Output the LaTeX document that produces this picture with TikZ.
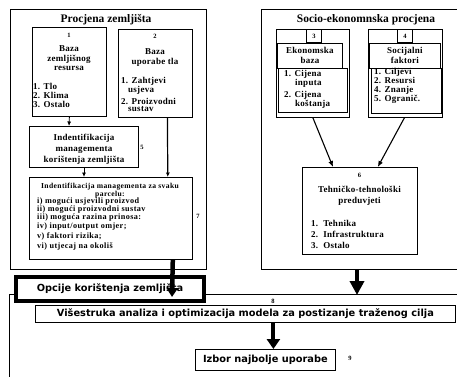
\documentclass[tikz,border=0pt]{standalone}
\usepackage{fontspec}
\setmainfont{Liberation Serif}
\newfontfamily\spc[LetterSpace=3]{Liberation Serif}
\newfontfamily\spcw[LetterSpace=5]{Liberation Serif}
\newfontfamily\vsans{DejaVu Sans}
\usetikzlibrary{arrows.meta,calc}
\begin{document}
\begin{tikzpicture}[x=1pt,y=-1pt,
  box/.style={draw,line width=0.8pt,fill=white,anchor=north west,inner sep=0pt},
  frame/.style={draw,line width=0.9pt,anchor=north west,inner sep=0pt},
  ttl/.style={inner sep=0pt,font=\bfseries\fontsize{11.5}{12}\selectfont},
  ctxt/.style={inner sep=0pt,font=\spc\bfseries\fontsize{9}{#1}\selectfont,align=center},
  ctxt/.default=9.5,
  ltxt/.style={inner sep=0pt,font=\spc\bfseries\fontsize{9}{#1}\selectfont,align=left,anchor=west},
  ltxt/.default=9,
  stxt/.style={inner sep=0pt,font=\spcw\bfseries\fontsize{8.2}{7}\selectfont,anchor=west},
  num/.style={inner sep=0pt,font=\bfseries\fontsize{6.5}{7}\selectfont},
  sans/.style={inner sep=0pt,font=\vsans\bfseries\fontsize{9.8}{10}\selectfont},
  arr/.style={line width=0.8pt,-{Latex[length=4.5pt,width=4pt]}},
  thick/.style={line width=4.5pt,-{Triangle[length=11pt,width=13pt]}}
]
\useasboundingbox (0,0) rectangle (457,376);
% bottom frame
\node[frame,minimum width=460pt,minimum height=100pt] (f8) at (9,294) {};
% big frames
\node[frame,minimum width=196pt,minimum height=260pt] (fL) at (10,9) {};
\node[frame,minimum width=210pt,minimum height=260pt] (fR) at (261,9) {};
\node[ttl] (tL) at (106,20) {Procjena zemljišta};
\node[ttl] (tR) at (366,20) {Socio-ekonomnska procjena};

% box 1
\node[box,minimum width=74pt,minimum height=89pt] (b1) at (32,27) {};
\node[num] (n1) at (69,35) {1};
\node[ctxt] (h1) at (69,58.5) {Baza\\zemljišnog\\resursa};
\node[ltxt] (l1) at (33,95) {1. Tlo\\2. Klima\\3. Ostalo};
% box 2
\node[box,minimum width=74pt,minimum height=88pt] (b2) at (118,29) {};
\node[num] (n2) at (155,36) {2};
\node[ctxt=10] (h2) at (155,58) {Baza\\uporabe tla};
\node[ltxt=7] (l2a) at (121,85.5) {1. Zahtjevi\\\hspace*{7pt}usjeva};
\node[ltxt=7] (l2b) at (121,104.5) {2. Proizvodni\\\hspace*{7pt}sustav};
% box 5
\node[box,minimum width=109pt,minimum height=41pt] (b5) at (29,126) {};
\node[ctxt=11] (h5) at (84,149) {Indentifikacija\\managementa\\korištenja zemljišta};
\node[num] (n5) at (142,147) {5};
% box 7
\node[box,minimum width=163pt,minimum height=82pt] (b7) at (29,177) {};
\node[inner sep=0pt,font=\spcw\bfseries\fontsize{7.6}{6.5}\selectfont,align=center] (h7) at (110,190.5) {Indentifikacija managementa za svaku\\parcelu:};
\node[stxt] (i1) at (37,202) {i) mogući usjevili proizvod};
\node[stxt] (i2) at (37,210) {ii) mogući proizvodni sustav};
\node[stxt] (i3) at (37,218) {iii) moguća razina prinosa:};
\node[stxt] (i4) at (37,227) {iv) input/output omjer;};
\node[stxt] (i5) at (37,236) {v) faktori rizika;};
\node[stxt] (i6) at (37,246) {vi) utjecaj na okoliš};
\node[num] (n7) at (198,216) {7};

% box 3
\node[box,minimum width=73pt,minimum height=88pt] (b3) at (276,29) {};
\node[box,minimum width=15pt,minimum height=13pt] (n3) at (306,29) {};
\node[num] at (n3) {3};
\node[box,minimum width=65pt,minimum height=25pt] (e3) at (277,43) {};
\node[ctxt=10] at (e3) {Ekonomska\\baza};
\node[box,minimum width=69pt,minimum height=44pt] (s3) at (278,68) {};
\node[ltxt=7] (l3a) at (284,79) {1. Cijena\\\hspace*{11pt}inputa};
\node[ltxt=7] (l3b) at (284,100) {2. Cijena\\\hspace*{11pt}koštanja};
% box 4
\node[box,minimum width=74pt,minimum height=88pt] (b4) at (368,29) {};
\node[box,minimum width=15pt,minimum height=13pt] (n4) at (397,29) {};
\node[num] at (n4) {4};
\node[box,minimum width=71pt,minimum height=25pt] (e4) at (369,43) {};
\node[ctxt=10] at (e4) {Socijalni\\faktori};
\node[box,minimum width=70pt,minimum height=45pt] (s4) at (371,68) {};
\node[ltxt=9] (l4) at (374,85.5) {1. Ciljevi\\2. Resursi\\4. Znanje\\5. Ogranič.};
% box 6
\node[box,minimum width=115pt,minimum height=87pt] (b6) at (302,167) {};
\node[num] (n6) at (359.5,175) {6};
\node[ctxt=11] (h6) at (359.5,195.5) {Tehničko-tehnološki\\preduvjeti};
\node[ltxt=11] (l6) at (311,234) {1.\ \ Tehnika\\2.\ \ Infrastruktura\\3.\ \ Ostalo};

% options box
\node[draw,line width=4pt,fill=white,anchor=north west,inner sep=0pt,minimum width=188pt,minimum height=24pt,sans] (op) at (14,275) {Opcije korištenja zemljišta};
% box 8
\node[box,minimum width=420pt,minimum height=17pt,sans] (b8) at (35,305) {Višestruka analiza i optimizacija modela za postizanje traženog cilja};
\node[num] (n8) at (273,301) {8};
% box 9
\node[box,minimum width=140pt,minimum height=21pt,sans] (b9) at (195,349) {Izbor najbolje uporabe};
\node[num] (n9) at (350,358) {9};

% connectors
\coordinate (p1) at (b1.south);
\coordinate (q1) at ($(b5.north west)+(40,0)$);
\draw[arr] (p1) -- (q1);
\coordinate (p5) at ($(b5.south west)+(55,0)$);
\coordinate (q5) at ($(b7.north west)+(55,0)$);
\draw[arr] (p5) -- (q5);
\coordinate (p2) at ($(b2.south)+(12,0)$);
\coordinate (q2) at ($(b7.north east)+(-25,0)$);
\draw[arr,line width=1.2pt] (p2) -- (q2);
\coordinate (p6a) at ($(b6.north west)+(31,0)$);
\coordinate (p6b) at ($(b6.north east)+(-40,0)$);
\coordinate (p4) at ($(b4.south)+(-1,0)$);
\draw[line width=1.1pt,-{Latex[length=6pt,width=5pt]}] (b3.south) -- (p6a);
\draw[line width=1.1pt,-{Latex[length=6pt,width=5pt]}] (p4) -- (p6b);
\coordinate (s7) at ($(b7.south east)+(-20,0)$);
\coordinate (c7) at (172,297);
\draw[thick,-{Triangle[length=9pt,width=11pt]}] (s7) -- (c7);
\coordinate (sR) at (357,269);
\coordinate (c6) at (357,295);
\draw[thick,-{Triangle[length=14pt,width=14pt]}] (sR) -- (c6);
\coordinate (p8) at ($(b8.south)+(28,0)$);
\coordinate (q8) at ($(b9.north)+(8,0)$);
\draw[line width=4pt,-{Triangle[length=10pt,width=13pt]}] (p8) -- (q8);
\end{tikzpicture}
\end{document}
